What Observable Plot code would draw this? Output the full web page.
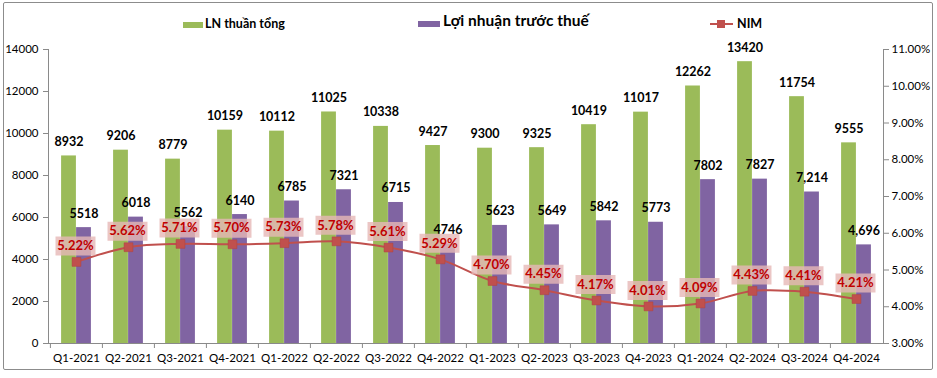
<!DOCTYPE html>
<html>
<head>
<meta charset="utf-8">
<script src="https://cdn.jsdelivr.net/npm/d3@7"></script>
<script src="https://cdn.jsdelivr.net/npm/@observablehq/plot@0.6"></script>
<style>
  body { margin: 0; background: #fff; font-family: Lato, "DejaVu Sans", sans-serif; }
  #wrap { position: relative; width: 937px; height: 378px; overflow: hidden; }
  #chart { position: absolute; left: 0; top: 0; }
  #border { position: absolute; left: 3px; top: 2px; width: 928px; height: 366px; border: 1.5px solid #8c8c8c; border-radius: 2px; pointer-events: none; }
  .leg { position: absolute; font-weight: bold; color: #000; white-space: nowrap; line-height: 1; }
  .sw { position: absolute; }
</style>
</head>
<body>
<div id="wrap">
  <div id="chart"></div>
  <div class="sw" style="left:183px;top:22px;width:20px;height:6px;background:#9bbb59;"></div>
  <div class="leg" style="left:205px;top:18px;font-size:12.5px;">LN thuần tổng</div>
  <div class="sw" style="left:418px;top:21px;width:22px;height:6px;background:#8064a2;"></div>
  <div class="leg" style="left:443px;top:13px;font-size:15.5px;">Lợi nhuận trước thuế</div>
  <div class="sw" style="left:710px;top:23px;width:23px;height:2px;background:#c0504d;"></div>
  <div class="sw" style="left:717px;top:20px;width:8px;height:8px;background:#c0504d;"></div>
  <div class="leg" style="left:737px;top:18px;font-size:12.5px;">NIM</div>
  <div id="border"></div>
</div>
<script>
const quarters = ["Q1-2021","Q2-2021","Q3-2021","Q4-2021","Q1-2022","Q2-2022","Q3-2022","Q4-2022",
                  "Q1-2023","Q2-2023","Q3-2023","Q4-2023","Q1-2024","Q2-2024","Q3-2024","Q4-2024"];
const lnThuanTong = [8932, 9206, 8779, 10159, 10112, 11025, 10338, 9427, 9300, 9325, 10419, 11017, 12262, 13420, 11754, 9555];
const lnTruocThue = [5518, 6018, 5562, 6140, 6785, 7321, 6715, 4746, 5623, 5649, 5842, 5773, 7802, 7827, 7214, 4696];
const lnTruocThueLabels = ["5518","6018","5562","6140","6785","7321","6715","4746","5623","5649","5842","5773","7802","7827","7,214","4,696"];
const nim = [5.22, 5.62, 5.71, 5.70, 5.73, 5.78, 5.61, 5.29, 4.70, 4.45, 4.17, 4.01, 4.09, 4.43, 4.41, 4.21];
const leftTicks = [0, 2000, 4000, 6000, 8000, 10000, 12000, 14000];
const rightTicks = [3, 4, 5, 6, 7, 8, 9, 10, 11];

const yMax = 14000, pMin = 3, pMax = 11;
const toY = p => (p - pMin) / (pMax - pMin) * yMax;
const fromY = v => v / yMax * (pMax - pMin) + pMin;

const data = quarters.map((q, i) => ({
  q, ln: lnThuanTong[i], lntt: lnTruocThue[i], lnttLabel: lnTruocThueLabels[i],
  nim: nim[i], nimY: toY(nim[i])
}));

const W = 937, H = 378, mL = 48, mR = 54;
const bw = (W - mL - mR) / quarters.length;
const half = bw / 2, barW = 15;

const box = { draw(ctx) { ctx.rect(-20, -9.5, 40, 19); } };

const chart = Plot.plot({
  width: W, height: H,
  marginLeft: mL, marginRight: mR, marginTop: 49, marginBottom: 35,
  style: { fontFamily: "Lato, 'DejaVu Sans', sans-serif", fontSize: "11.5px", color: "#000", background: "transparent" },
  x: { type: "band", domain: quarters, padding: 0 },
  y: { domain: [0, yMax] },
  marks: [
    Plot.barY(data, { x: "q", y: "ln", fill: "#9bbb59", insetLeft: half - barW, insetRight: half }),
    Plot.barY(data, { x: "q", y: "lntt", fill: "#8064a2", insetLeft: half, insetRight: half - barW }),
    Plot.frame({ anchor: "left", stroke: "#8a8a8a" }),
    Plot.frame({ anchor: "right", stroke: "#8a8a8a" }),
    Plot.frame({ anchor: "bottom", stroke: "#8a8a8a" }),
    Plot.axisY(leftTicks, { anchor: "left", tickSize: 5, tickPadding: 5, stroke: "#8a8a8a", fill: "#000", label: null, fontSize: 11.5,
      tickFormat: d => String(d) }),
    Plot.axisY(rightTicks.map(toY), { anchor: "right", tickSize: 5, tickPadding: 3, stroke: "#8a8a8a", fill: "#000", label: null, fontSize: 11.5,
      tickFormat: d => fromY(d).toFixed(2) + "%" }),
    Plot.axisX({ tickSize: 5, dx: -half, stroke: "#8a8a8a", fill: "none", label: null }),
    Plot.axisX({ tickSize: 0, tickPadding: 10, fill: "#000", label: null, fontSize: 11.5 }),
    Plot.text(data, { x: "q", y: "ln", text: d => String(d.ln), dx: -barW / 2, dy: -14, fontWeight: "bold", fontSize: 12.5, fill: "#000" }),
    Plot.text(data, { x: "q", y: "lntt", text: "lnttLabel", dx: barW / 2, dy: -14, fontWeight: "bold", fontSize: 12.5, fill: "#000" }),
    Plot.line(data, { x: "q", y: "nimY", stroke: "#c0504d", strokeWidth: 2, curve: "catmull-rom" }),
    Plot.dot(data, { x: "q", y: "nimY", symbol: "square", r: 5, fill: "#c0504d", stroke: "#b04340", strokeWidth: 0.5 }),
    Plot.dot(data, { x: "q", y: "nimY", symbol: box, r: 5, fill: "#e6b8b7", fillOpacity: 0.8, dx: -1, dy: -16 }),
    Plot.text(data, { x: "q", y: "nimY", text: d => d.nim.toFixed(2) + "%", dx: -1, dy: -16, fill: "#c00000", fontWeight: "bold", fontSize: 13 })
  ]
});
document.getElementById("chart").appendChild(chart);
</script>
</body>
</html>
